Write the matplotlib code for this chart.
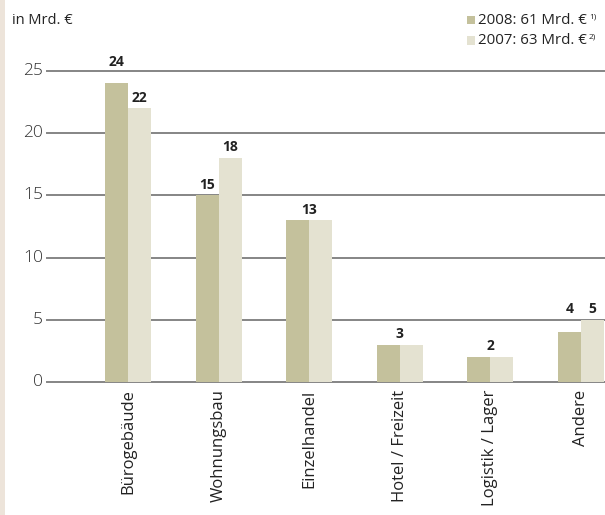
import numpy as np
import matplotlib
matplotlib.use("agg")
from matplotlib import pyplot as plt
from matplotlib.patches import Rectangle

plt.rcParams['font.family'] = ['Open Sans', 'DejaVu Sans']

# Investitionsvolumen nach Nutzungsart, in Mrd. Euro
categories = ["Bürogebäude", "Wohnungsbau", "Einzelhandel",
              "Hotel / Freizeit", "Logistik / Lager", "Andere"]
vals_2008 = [24, 15, 13, 3, 2, 4]
vals_2007 = [22, 18, 13, 3, 2, 5]
legend_labels = ["2008: 61 Mrd. €", "2007: 63 Mrd. €"]
legend_notes = ["1)", "2)"]
yticks = [0, 5, 10, 15, 20, 25]

col08 = "#c4c19c"
col07 = "#e4e2d1"
gridcol = "#858585"
textcol = "#222222"

W, H = 605, 515
fig = plt.figure(figsize=(W / 100, H / 100), dpi=100)
fig.patch.set_facecolor("white")

# beige strip at the left margin
fig.patches.append(Rectangle((0, 0), 5 / W, 1, transform=fig.transFigure,
                             facecolor="#ede4da", edgecolor="none"))

ax = fig.add_axes([47 / W, 133 / H, 558 / W, 311 / H])
ax.set_xlim(-0.894, 5.265)
ax.set_ylim(0, 25)
for s in ax.spines.values():
    s.set_visible(False)
ax.set_xticks([])
ax.set_yticks([])

for y in yticks:
    ax.axhline(y, color=gridcol, lw=1.4, zorder=1, clip_on=False)
    ax.text(-0.94, y, str(y), ha="right", va="center", fontsize=12.5,
            color="#333333", fontweight="light")

x = np.arange(len(categories))
bw = 0.254
ax.bar(x - bw / 2, vals_2008, bw, color=col08, zorder=2)
ax.bar(x + bw / 2, vals_2007, bw, color=col07, zorder=2)


def label_y(v, pad=0.3, h=0.9):
    # lift a label above a gridline it would otherwise sit on
    y = v + pad
    for g in yticks:
        if y < g < y + h:
            return g + 0.2
    return y


# value labels: one centred label if both years are equal
lab_kw = dict(ha="center", va="bottom", fontsize=10, fontweight="bold",
              color=textcol, clip_on=False)
for xi, a, b in zip(x, vals_2008, vals_2007):
    if a == b:
        ax.text(xi, label_y(a), str(a), **lab_kw)
    else:
        ya, yb = label_y(a), label_y(b)
        if abs(ya - yb) < 1:
            ya = yb = max(ya, yb)
        ax.text(xi - bw / 2, ya, str(a), **lab_kw)
        ax.text(xi + bw / 2, yb, str(b), **lab_kw)

for xi, c in zip(x, categories):
    ax.text(xi, -0.6, c, rotation=90, ha="center", va="top",
            fontsize=12, color=textcol)

fig.text(12 / W, 1 - 20 / H, "in Mrd. €", ha="left", va="center",
         fontsize=10.5, color=textcol)

# legend
for i, (lab, note, col) in enumerate(zip(legend_labels, legend_notes,
                                         [col08, col07])):
    yc = 1 - (20 + i * 20.5) / H
    fig.patches.append(Rectangle((467 / W, yc - 4 / H), 8 / W, 8 / H,
                                 transform=fig.transFigure,
                                 facecolor=col, edgecolor="none"))
    t = fig.text(478 / W, yc, lab, ha="left", va="center", fontsize=10.8,
                 color=textcol)
    fig.canvas.draw()
    bb = t.get_window_extent()
    fig.text(bb.x1 / W + 2 / W, yc + 3 / H, note, ha="left", va="center",
             fontsize=6, color=textcol)

fig.savefig("out.png", dpi=100, facecolor="white")
